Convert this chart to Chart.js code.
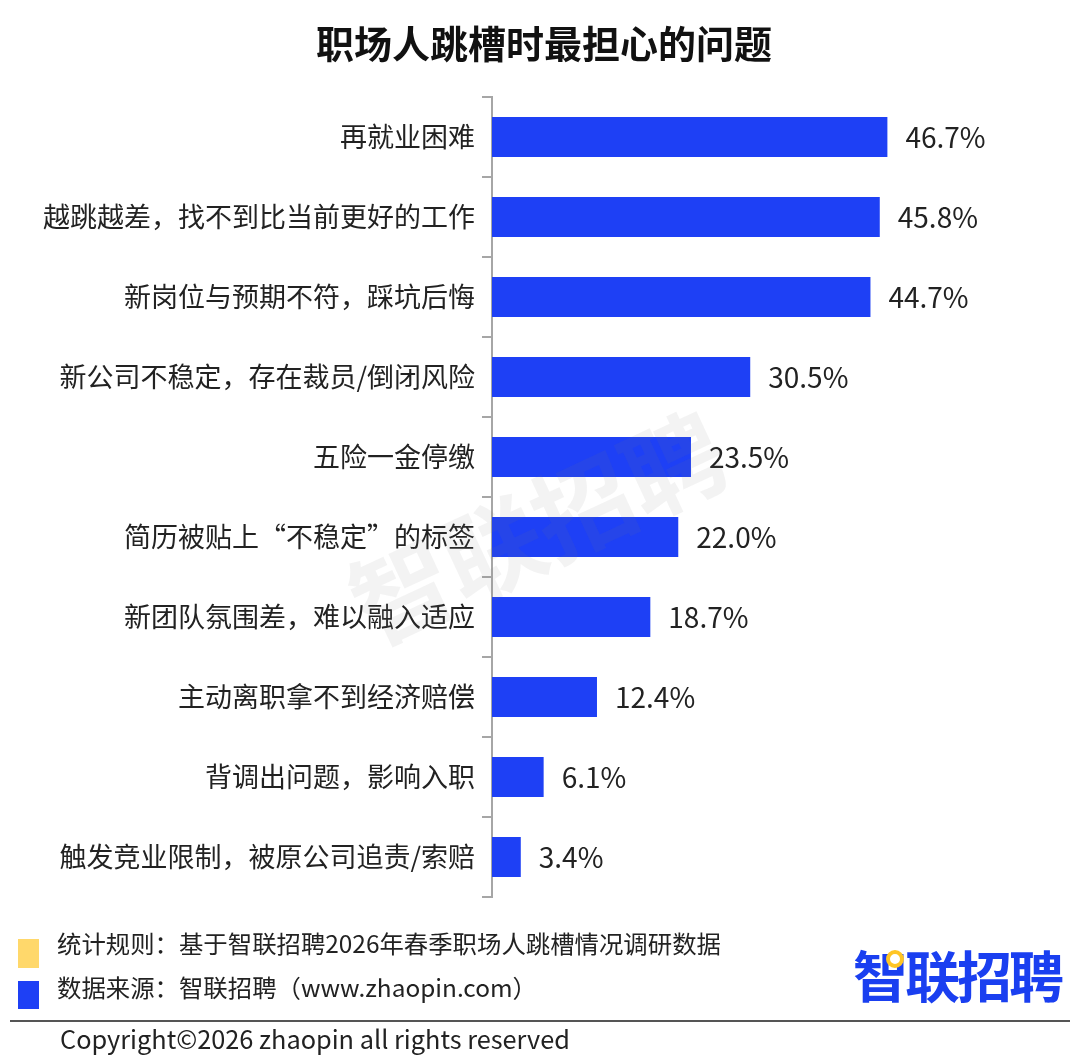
<!DOCTYPE html>
<html lang="zh-CN">
<head>
<meta charset="utf-8">
<title>职场人跳槽时最担心的问题</title>
<script src="https://cdn.jsdelivr.net/npm/chart.js@4.4.1/dist/chart.umd.min.js"></script>
<style>
  html, body { margin: 0; padding: 0; background: #fff; }
  body { font-family: "Noto Sans CJK SC", "Noto Sans", sans-serif; color: #222; }
  #wrap { position: relative; width: 1080px; height: 1057px; overflow: hidden; }
  #chart { position: absolute; left: 0; top: 0; }
  .title { position: absolute; left: 0; width: 1088px; top: 14px; text-align: center;
           font-size: 38px; font-weight: 700; color: #111; line-height: 56px; }
  .sq { position: absolute; left: 18px; width: 21px; }
  .note { position: absolute; left: 57px; font-size: 24.4px; line-height: 32px; color: #222; white-space: nowrap; }
  .rule { position: absolute; left: 10px; right: 10px; top: 1020px; height: 2px; background: #555; }
  .copy { position: absolute; left: 60px; top: 1022px; font-size: 25.3px; line-height: 32px; color: #222; white-space: nowrap; }
  .logo { position: absolute; left: 853px; top: 938px; font-size: 55px; font-weight: 700;
          color: #1a3ff0; letter-spacing: -3px; line-height: 70px; white-space: nowrap; }
  .dot { position: absolute; left: 886px; top: 950px; width: 10px; height: 10px;
         border: 4px solid #ffc524; border-radius: 50%; background: #fff; }
</style>
</head>
<body>
<div id="wrap">
  <canvas id="chart" width="1080" height="1057"></canvas>
  <div class="title">职场人跳槽时最担心的问题</div>

  <div class="sq" style="top:939px;height:29px;background:#ffd86b;"></div>
  <div class="sq" style="top:981px;height:28px;background:#1e40f5;"></div>
  <div class="note" style="top:927px;">统计规则：基于智联招聘2026年春季职场人跳槽情况调研数据</div>
  <div class="note" style="top:971px;">数据来源：智联招聘（www.zhaopin.com）</div>
  <div class="logo">智联招聘</div>
  <div class="dot"></div>
  <div class="rule"></div>
  <div class="copy">Copyright©2026 zhaopin all rights reserved</div>
</div>

<script>
// 数据
const categories = [
    '再就业困难',
    '越跳越差，找不到比当前更好的工作',
    '新岗位与预期不符，踩坑后悔',
    '新公司不稳定，存在裁员/倒闭风险',
    '五险一金停缴',
    '简历被贴上“不稳定”的标签',
    '新团队氛围差，难以融入适应',
    '主动离职拿不到经济赔偿',
    '背调出问题，影响入职',
    '触发竞业限制，被原公司追责/索赔'
];
const shares = [46.7, 45.8, 44.7, 30.5, 23.5, 22.0, 18.7, 12.4, 6.1, 3.4];

const fontFamily = '"Noto Sans CJK SC", "Noto Sans", sans-serif';

// 数值标签
const valueLabels = {
    id: 'valueLabels',
    afterDatasetsDraw(chart) {
        const ctx = chart.ctx;
        const meta = chart.getDatasetMeta(0);
        ctx.save();
        ctx.font = '28px ' + fontFamily;
        ctx.fillStyle = '#222';
        ctx.textAlign = 'left';
        ctx.textBaseline = 'middle';
        meta.data.forEach((bar, i) => {
            ctx.fillText(shares[i].toFixed(1) + '%', bar.x + 18, bar.y);
        });
        ctx.restore();
    }
};

// 水印
const watermark = {
    id: 'watermark',
    afterDatasetsDraw(chart) {
        const ctx = chart.ctx;
        ctx.save();
        ctx.translate(538, 528);
        ctx.rotate(-25 * Math.PI / 180);
        ctx.font = 'bold 100px ' + fontFamily;
        ctx.fillStyle = 'rgba(120, 120, 120, 0.09)';
        ctx.textAlign = 'center';
        ctx.textBaseline = 'middle';
        ctx.fillText('智联招聘', 0, 0);
        ctx.restore();
    }
};

new Chart(document.getElementById('chart'), {
    type: 'bar',
    data: {
        labels: categories,
        datasets: [{
            data: shares,
            backgroundColor: '#1e40f5',
            borderWidth: 0,
            barPercentage: 0.5,
            categoryPercentage: 1.0
        }]
    },
    options: {
        indexAxis: 'y',
        responsive: false,
        animation: false,
        devicePixelRatio: 1,
        layout: {
            padding: { top: 97, bottom: 160, left: 0, right: 80 }
        },
        plugins: {
            legend: { display: false },
            tooltip: { enabled: false }
        },
        scales: {
            x: {
                display: false,
                min: 0,
                max: 60
            },
            y: {
                afterFit(scale) { scale.width = 492; },
                border: { display: true, color: '#a6a6a6', width: 2 },
                grid: {
                    offset: true,
                    drawOnChartArea: false,
                    drawTicks: true,
                    tickLength: 10,
                    color: '#a6a6a6',
                    lineWidth: 2
                },
                ticks: {
                    padding: 7,
                    color: '#222',
                    font: { family: fontFamily, size: 27 }
                }
            }
        }
    },
    plugins: [valueLabels, watermark]
});
</script>
</body>
</html>
